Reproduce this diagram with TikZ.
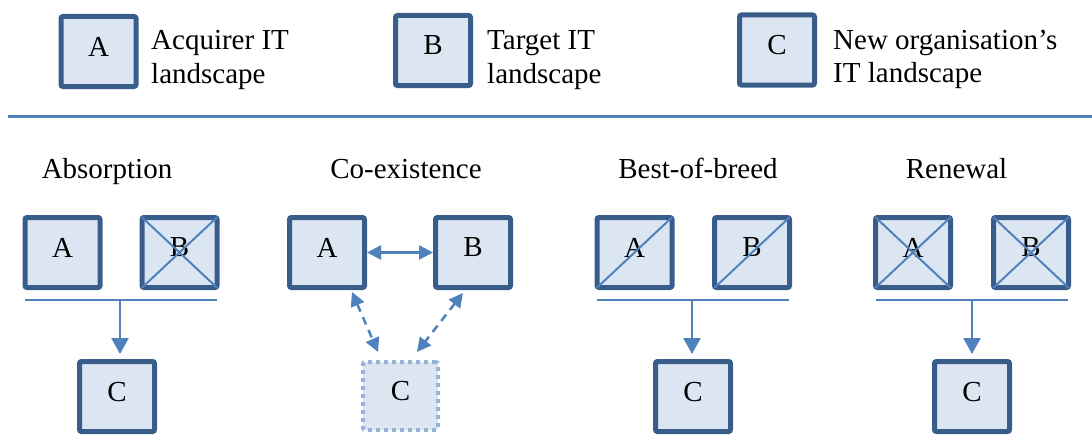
\documentclass[tikz,border=0pt]{standalone}
\usepackage{fontspec}
\setmainfont{Liberation Serif}
\usetikzlibrary{arrows.meta,calc}
\definecolor{boxline}{HTML}{385D8A}
\definecolor{boxfill}{HTML}{DCE6F2}
\definecolor{linkc}{HTML}{4F81BD}
\definecolor{dotc}{HTML}{95B3D7}
\begin{document}
\begin{tikzpicture}[x=1pt,y=-1pt,
  font=\fontsize{29}{33}\selectfont,
  itbox/.style={draw=boxline, line width=5pt, fill=boxfill,
    minimum width=75pt, minimum height=70pt, rounded corners=2pt, inner sep=0pt,
    text depth=10pt},
  newbox/.style={draw=dotc, line width=4pt, fill=boxfill, dash pattern=on 4pt off 4pt,
    minimum width=75pt, minimum height=68pt, rounded corners=2pt, inner sep=0pt,
    text depth=10pt},
  legtext/.style={anchor=base west, inner sep=0pt},
  title/.style={anchor=base, inner sep=0pt},
  link/.style={draw=linkc, line width=2.5pt},
  cross/.style={draw=linkc, line width=2pt, shorten <=3pt, shorten >=3pt},
  merge/.style={link, -{Triangle[width=17pt,length=16pt]}, shorten >=5pt},
  bitip/.style={{Triangle[width=14pt,length=14pt]}-{Triangle[width=14pt,length=14pt]}},
  dashlink/.style={link, bitip, dash pattern=on 8pt off 6pt}
]
\useasboundingbox (0,0) rectangle (1092,436);

% legend
\node[itbox] (lgA) at (98.5,51.5) {A};
\node[legtext] (lgA1) at (151,49) {Acquirer IT};
\node[legtext] (lgA2) at (151,83) {landscape};
\node[itbox] (lgB) at (433,50.5) {B};
\node[legtext] (lgB1) at (487,50) {Target IT};
\node[legtext] (lgB2) at (487,83) {landscape};
\node[itbox] (lgC) at (777,50) {C};
\node[legtext] (lgC1) at (833,49) {New organisation’s};
\node[legtext] (lgC2) at (833,82) {IT landscape};

% separator
\coordinate (sepL) at (8,116.5);
\coordinate (sepR) at (1092,116.5);
\draw[draw=linkc, line width=2.2pt] (sepL) -- (sepR);

% titles
\node[title] (t1) at (107,178) {Absorption};
\node[title] (t2) at (406,178) {Co-existence};
\node[title] (t3) at (698,178) {Best-of-breed};
\node[title] (t4) at (956.5,178) {Renewal};

% absorption
\node[itbox] (a1) at (62.5,252.5) {A};
\node[itbox] (b1) at (179.5,252.5) {B};
\node[itbox] (c1) at (117,396.5) {C};
\draw[cross] (b1.north west) -- (b1.south east);
\draw[cross] (b1.south west) -- (b1.north east);
\coordinate (bar1L) at (25,300);
\coordinate (bar1R) at (217,300);
\coordinate (bar1M) at (120,300);
\draw[link] (bar1L) -- (bar1R);
\draw[merge] (bar1M) -- (bar1M |- c1.north);

% co-existence
\node[itbox] (a2) at (327,252.5) {A};
\node[itbox] (b2) at (473,252.5) {B};
\node[newbox] (c2) at (400.5,396) {C};
\draw[link, bitip] (a2.east) -- (b2.west);
\draw[dashlink] ($(a2.south)+(25,2)$) -- ($(c2.north)+(-22.5,-8)$);
\draw[dashlink] ($(b2.south)+(-10,3)$) -- ($(c2.north)+(16.5,-8)$);

% best-of-breed
\node[itbox] (a3) at (634.5,252.5) {A};
\node[itbox] (b3) at (752,252.5) {B};
\node[itbox] (c3) at (693,396.5) {C};
\draw[cross] (a3.south west) -- (a3.north east);
\draw[cross] (b3.south west) -- (b3.north east);
\coordinate (bar3L) at (597,300);
\coordinate (bar3R) at (789,300);
\coordinate (bar3M) at (692,300);
\draw[link] (bar3L) -- (bar3R);
\draw[merge] (bar3M) -- (bar3M |- c3.north);

% renewal
\node[itbox] (a4) at (913,252.5) {A};
\node[itbox] (b4) at (1031,252.5) {B};
\node[itbox] (c4) at (972,396.5) {C};
\draw[cross] (a4.north west) -- (a4.south east);
\draw[cross] (a4.south west) -- (a4.north east);
\draw[cross] (b4.north west) -- (b4.south east);
\draw[cross] (b4.south west) -- (b4.north east);
\coordinate (bar4L) at (876,300);
\coordinate (bar4R) at (1068,300);
\coordinate (bar4M) at (972,300);
\draw[link] (bar4L) -- (bar4R);
\draw[merge] (bar4M) -- (bar4M |- c4.north);
\end{tikzpicture}
\end{document}
